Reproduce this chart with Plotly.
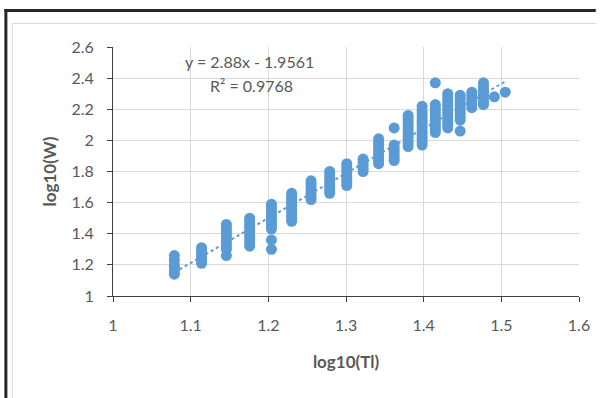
import plotly.graph_objects as go

# ---- data ----
log_tl = [1.079, 1.114, 1.146, 1.176, 1.204, 1.230, 1.255, 1.279, 1.301, 1.322,
          1.342, 1.362, 1.380, 1.398, 1.415, 1.431, 1.447, 1.462, 1.477, 1.491, 1.505]
log_w = [
    [1.14, 1.16, 1.18, 1.20, 1.23, 1.26],
    [1.21, 1.23, 1.25, 1.27, 1.29, 1.31],
    [1.26, 1.30, 1.32, 1.34, 1.36, 1.38, 1.40, 1.42, 1.44, 1.46],
    [1.32, 1.34, 1.36, 1.38, 1.40, 1.42, 1.44, 1.46, 1.48, 1.50],
    [1.30, 1.36, 1.43, 1.45, 1.47, 1.49, 1.51, 1.53, 1.55, 1.57, 1.59],
    [1.48, 1.50, 1.52, 1.54, 1.56, 1.58, 1.60, 1.62, 1.64, 1.66],
    [1.62, 1.64, 1.66, 1.68, 1.70, 1.72, 1.74],
    [1.66, 1.68, 1.70, 1.72, 1.74, 1.76, 1.78, 1.80],
    [1.71, 1.73, 1.75, 1.77, 1.79, 1.81, 1.83, 1.85],
    [1.80, 1.82, 1.84, 1.86, 1.88],
    [1.85, 1.87, 1.89, 1.91, 1.93, 1.95, 1.97, 1.99, 2.01],
    [1.87, 1.89, 1.91, 1.93, 1.95, 1.97, 2.08],
    [1.96, 1.98, 2.00, 2.02, 2.04, 2.06, 2.08, 2.10, 2.12, 2.14, 2.16],
    [1.97, 1.99, 2.01, 2.03, 2.05, 2.07, 2.09, 2.11, 2.13, 2.15, 2.17, 2.19, 2.22],
    [2.05, 2.07, 2.09, 2.11, 2.13, 2.15, 2.17, 2.19, 2.21, 2.23, 2.37],
    [2.08, 2.10, 2.12, 2.14, 2.16, 2.18, 2.20, 2.22, 2.24, 2.26, 2.28, 2.30],
    [2.06, 2.13, 2.15, 2.17, 2.19, 2.21, 2.23, 2.25, 2.27, 2.29],
    [2.21, 2.23, 2.25, 2.27, 2.29, 2.31],
    [2.23, 2.25, 2.27, 2.29, 2.31, 2.33, 2.35, 2.37],
    [2.28],
    [2.31],
]
slope = 2.88
intercept = -1.9561
r_squared = 0.9768
x_ticks = [1, 1.1, 1.2, 1.3, 1.4, 1.5, 1.6]
y_ticks = [1, 1.2, 1.4, 1.6, 1.8, 2, 2.2, 2.4, 2.6]

xs, ys = [], []
for xv, col in zip(log_tl, log_w):
    for yv in col:
        xs.append(xv)
        ys.append(yv)

BLUE = "#5B9BD5"
GREY_TXT = "#595959"
FONT = "Lato, Carlito, Calibri, sans-serif"

fig = go.Figure()
tx = [min(log_tl), max(log_tl)]
fig.add_trace(go.Scatter(x=tx, y=[slope * v + intercept for v in tx], mode="lines",
                         line=dict(color=BLUE, width=2, dash="dot"), showlegend=False,
                         hoverinfo="skip"))
fig.add_trace(go.Scatter(x=xs, y=ys, mode="markers",
                         marker=dict(color=BLUE, size=11, line=dict(width=0)),
                         showlegend=False))

# plot area pixels: x 113..585, y 47..296
L, R, T, B = 113, 585, 47, 296
W, H = 602, 398
def px(x):
    return (x - L) / (R - L)
def py(y):
    return (B - y) / (B - T)

shapes = [
    dict(type="line", xref="paper", yref="paper", x0=px(3), x1=px(602), y0=py(10.5), y1=py(10.5),
         line=dict(color="#262626", width=3)),
    dict(type="line", xref="paper", yref="paper", x0=px(4.5), x1=px(4.5), y0=py(9), y1=py(398),
         line=dict(color="#262626", width=3)),
    dict(type="line", xref="paper", yref="paper", x0=px(11), x1=px(602), y0=py(23.5), y1=py(23.5),
         line=dict(color="#D9D9D9", width=1)),
    dict(type="line", xref="paper", yref="paper", x0=px(11), x1=px(11), y0=py(23.5), y1=py(398),
         line=dict(color="#D9D9D9", width=1)),
]

fig.update_layout(
    width=W, height=H,
    margin=dict(l=L, r=W - R, t=T, b=H - B, pad=0),
    paper_bgcolor="white", plot_bgcolor="white",
    font=dict(family=FONT, color=GREY_TXT, size=16),
    shapes=shapes,
    annotations=[
        dict(text=f"y = {slope}x - {abs(intercept)}", x=1.176, y=2.505, xref="x", yref="y",
             showarrow=False, xanchor="center", yanchor="middle",
             font=dict(size=16, color=GREY_TXT, family=FONT)),
        dict(text=f"R² = {r_squared}", x=1.178, y=2.35, xref="x", yref="y",
             showarrow=False, xanchor="center", yanchor="middle",
             font=dict(size=16, color=GREY_TXT, family=FONT)),
    ],
    xaxis=dict(range=[1, 1.6], tickvals=x_ticks, ticktext=[str(v) for v in x_ticks],
               showgrid=True, gridcolor="#D9D9D9", gridwidth=1,
               showline=True, linecolor="#404040", linewidth=1,
               ticks="outside", ticklen=5, tickcolor="#404040",
               ticklabelstandoff=10, zeroline=False,
               tickfont=dict(size=16, color=GREY_TXT),
               title=dict(text="<b>log10(Tl)</b>", font=dict(size=17, color=GREY_TXT), standoff=22)),
    yaxis=dict(range=[1, 2.6], tickvals=y_ticks, ticktext=[str(v) for v in y_ticks],
               showgrid=True, gridcolor="#D9D9D9", gridwidth=1,
               showline=True, linecolor="#404040", linewidth=1,
               ticks="outside", ticklen=5, tickcolor="#404040",
               ticklabelstandoff=10, zeroline=False,
               tickfont=dict(size=16, color=GREY_TXT),
               title=dict(text="<b>log10(W)</b>", font=dict(size=17, color=GREY_TXT), standoff=10)),
)

fig.write_html("out.html", config={"displayModeBar": False},
               post_script="document.body.style.margin='0';document.body.style.overflow='hidden';")
